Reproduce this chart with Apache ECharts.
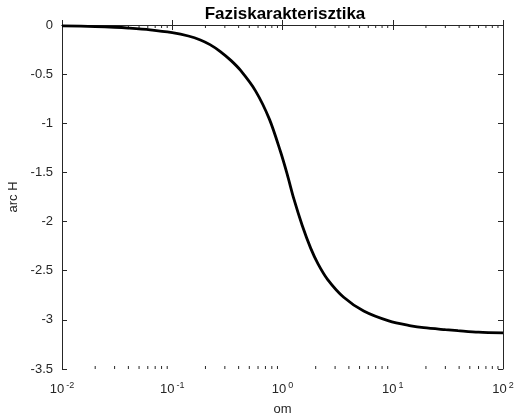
<!DOCTYPE html>
<html>
<head>
<meta charset="utf-8">
<script src="https://cdn.jsdelivr.net/npm/echarts@6/dist/echarts.min.js"></script>
<style>
  html, body { margin: 0; padding: 0; background: #fff; }
  #main { width: 515px; height: 414px; }
</style>
</head>
<body>
<div id="main"></div>
<script>
// values
var om = [0.01, 0.02, 0.03, 0.04, 0.063, 0.1, 0.14, 0.18, 0.22, 0.273, 0.34, 0.415, 0.569, 0.762, 0.96,
          1.104, 1.268, 1.51, 1.8, 2.1, 2.57, 3.59, 5.45, 9.2, 14.6, 19.1, 30, 39, 60, 100];
var arcH = [-0.008, -0.016, -0.023, -0.031, -0.049, -0.078, -0.112, -0.152, -0.2, -0.27, -0.36, -0.46,
            -0.67, -0.96, -1.29, -1.52, -1.77, -2.04, -2.27, -2.43, -2.59, -2.77, -2.91, -3.01, -3.06,
            -3.08, -3.10, -3.11, -3.125, -3.133];
var decades = [0.01, 0.1, 1, 10];
var minorSteps = [2, 3, 4, 5, 6, 7, 8, 9];

var minorTicks = [];
decades.forEach(function (d) {
  minorSteps.forEach(function (m) { minorTicks.push([d * m]); });
});

var lineData = om.map(function (v, i) { return [v, arcH[i]]; });

var axisColor = '#262626';
var fontFamily = '"Liberation Sans", Arial, sans-serif';

var myChart = echarts.init(document.getElementById('main'));
var option = {
  backgroundColor: '#fff',
  animation: false,
  title: {
    text: 'Faziskarakterisztika',
    left: 280,
    top: 1,
    textAlign: 'center',
    textStyle: { fontFamily: fontFamily, fontSize: 17, fontWeight: 'bold', color: '#000' }
  },
  grid: { left: 62, right: 12, top: 25, bottom: 45, containLabel: false, outerBoundsMode: 'none' },
  xAxis: [
    {
      type: 'log',
      logBase: 10,
      min: 0.01,
      max: 100,
      name: 'om',
      nameLocation: 'middle',
      nameGap: 34,
      nameTextStyle: { fontFamily: fontFamily, fontSize: 13, color: '#262626' },
      axisLine: { lineStyle: { color: axisColor, width: 1 } },
      axisTick: { inside: true, length: 5, lineStyle: { color: axisColor } },
      splitLine: { show: false },
      axisLabel: {
        margin: 12,
        formatter: function (v) {
          var e = Math.round(Math.log10(v));
          return '{b|10}{e|' + e + '}';
        },
        rich: {
          b: { fontFamily: fontFamily, fontSize: 13, color: '#262626' },
          e: { fontFamily: fontFamily, fontSize: 9, color: '#262626', padding: [0, 0, 8, 2] }
        }
      }
    },
    {
      type: 'log',
      logBase: 10,
      min: 0.01,
      max: 100,
      position: 'top',
      axisLine: { lineStyle: { color: axisColor, width: 1 } },
      axisTick: { inside: true, length: 5, lineStyle: { color: axisColor } },
      axisLabel: { show: false },
      splitLine: { show: false }
    }
  ],
  yAxis: [
    {
      type: 'value',
      min: -3.5,
      max: 0,
      interval: 0.5,
      name: 'arc H',
      nameLocation: 'middle',
      nameGap: 36,
      nameTextStyle: { fontFamily: fontFamily, fontSize: 13, color: '#262626' },
      axisLine: { show: true, lineStyle: { color: axisColor, width: 1 } },
      axisTick: { show: true, inside: true, length: 5, lineStyle: { color: axisColor } },
      splitLine: { show: false },
      axisLabel: { margin: 9, fontFamily: fontFamily, fontSize: 13, color: '#262626' }
    },
    {
      type: 'value',
      min: -3.5,
      max: 0,
      interval: 0.5,
      position: 'right',
      axisLine: { show: true, lineStyle: { color: axisColor, width: 1 } },
      axisTick: { show: true, inside: true, length: 5, lineStyle: { color: axisColor } },
      splitLine: { show: false },
      axisLabel: { show: false }
    }
  ],
  series: [
    {
      type: 'line',
      data: lineData,
      smooth: 0.3,
      showSymbol: false,
      lineStyle: { color: '#000', width: 2.8 },
      z: 3
    },
    {
      type: 'custom',
      data: minorTicks,
      silent: true,
      renderItem: function (params, api) {
        var x = api.coord([api.value(0), 0])[0];
        var yTop = params.coordSys.y;
        var yBot = params.coordSys.y + params.coordSys.height;
        var style = { stroke: axisColor, lineWidth: 1 };
        return {
          type: 'group',
          children: [
            { type: 'line', shape: { x1: x, y1: yBot, x2: x, y2: yBot - 3 }, style: style },
            { type: 'line', shape: { x1: x, y1: yTop, x2: x, y2: yTop + 3 }, style: style }
          ]
        };
      },
      z: 2
    }
  ]
};
option && myChart.setOption(option);
</script>
</body>
</html>
